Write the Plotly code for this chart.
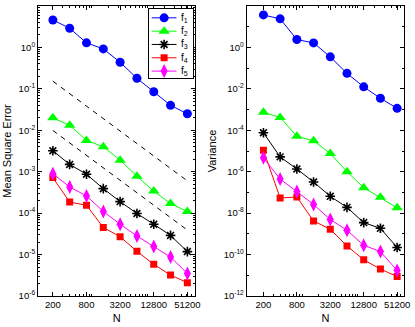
import plotly.graph_objects as go

# ---------------- data ----------------
N = [200, 400, 800, 1600, 3200, 6400, 12800, 25600, 51200]
series_names = ["f<sub>1</sub>", "f<sub>2</sub>", "f<sub>3</sub>", "f<sub>4</sub>", "f<sub>5</sub>"]

mse_f1 = [4.6, 2.9, 1.29, 0.92, 0.44, 0.18, 0.085, 0.040, 0.025]
mse_f2 = [0.020, 0.0132, 0.0057, 0.0040, 0.0019, 7.8e-4, 3.4e-4, 1.7e-4, 1.1e-4]
mse_f3 = [3.2e-3, 1.5e-3, 8.7e-4, 3.9e-4, 1.9e-4, 9.8e-5, 5.4e-5, 2.9e-5, 1.18e-5]
mse_f4 = [7.2e-4, 1.85e-4, 1.55e-4, 4.5e-5, 2.7e-5, 1.2e-5, 5.8e-6, 3.2e-6, 2.1e-6]
mse_f5 = [8.9e-4, 4.3e-4, 2.6e-4, 1.1e-4, 5.4e-5, 2.8e-5, 1.56e-5, 8.7e-6, 3.5e-6]

var_f1 = [37, 24, 2.4, 1.65, 0.35, 0.056, 0.0125, 0.0035, 0.00115]
var_f2 = [7.4e-4, 4.2e-4, 5.1e-5, 3.1e-5, 7.6e-6, 1.0e-6, 1.7e-7, 5.8e-8, 1.8e-8]
var_f3 = [7.6e-5, 5.2e-6, 1.35e-6, 3.2e-7, 6.5e-8, 1.9e-8, 3.5e-9, 1.85e-9, 2.2e-10]
var_f4 = [1.1e-5, 5.4e-8, 6.0e-8, 4.2e-9, 1.66e-9, 2.6e-10, 5.6e-11, 2.0e-11, 8.7e-12]
var_f5 = [4.7e-6, 4.4e-7, 1.1e-7, 2.6e-8, 4.9e-9, 1.5e-9, 2.8e-10, 1.4e-10, 1.7e-11]

# dashed reference lines (slope -1), endpoints
ref_N = [200, 51200]
ref_a = [0.153, 6.0e-4]
ref_b = [0.0099, 3.9e-5]

x_tick_vals = [200, 800, 3200, 12800, 51200]
x_tick_text = ["200", "800", "3200", "12800", "51200"]
mse_exponents = [1, 0, -1, -2, -3, -4, -5, -6]
var_exponents = [2, 0, -2, -4, -6, -8, -10, -12]

# ---------------- styles ----------------
FONT = "Liberation Sans, Arial, sans-serif"
colors = ["#0000ff", "#00ff00", "#000000", "#ff0000", "#ff00ff"]
markers = [
    dict(symbol="circle", size=9, color=colors[0]),
    dict(symbol="triangle-up", size=10, color=colors[1]),
    dict(symbol="asterisk-open", size=8, color=colors[2], line=dict(width=1.6, color=colors[2])),
    dict(symbol="square", size=7, color=colors[3]),
    dict(symbol="diamond-tall", size=10, color=colors[4]),
]

mse = [mse_f1, mse_f2, mse_f3, mse_f4, mse_f5]
var = [var_f1, var_f2, var_f3, var_f4, var_f5]

fig = go.Figure()

for ref in (ref_a, ref_b):
    fig.add_trace(go.Scatter(x=ref_N, y=ref, mode="lines", xaxis="x", yaxis="y",
                             line=dict(color="black", width=1, dash="5px,5px"),
                             showlegend=False, hoverinfo="skip"))

for i in range(5):
    fig.add_trace(go.Scatter(x=N, y=mse[i], mode="lines+markers", name=series_names[i],
                             xaxis="x", yaxis="y", line=dict(color=colors[i], width=1),
                             marker=markers[i], showlegend=False))
for i in range(5):
    fig.add_trace(go.Scatter(x=N, y=var[i], mode="lines+markers", name=series_names[i],
                             xaxis="x2", yaxis="y2", line=dict(color=colors[i], width=1),
                             marker=markers[i], showlegend=False))

# ---------------- manual key (gnuplot style) ----------------
row_h = 13.5
for i in range(5):
    yy = 9 + row_h * i
    fig.add_trace(go.Scatter(x=[3, 28], y=[yy, yy], mode="lines", xaxis="x3", yaxis="y3",
                             line=dict(color=colors[i], width=1), showlegend=False, hoverinfo="skip"))
    fig.add_trace(go.Scatter(x=[15.5], y=[yy], mode="markers", xaxis="x3", yaxis="y3",
                             marker=markers[i], showlegend=False, hoverinfo="skip"))
    fig.add_annotation(x=31, y=yy, xref="x3", yref="y3", text=series_names[i], showarrow=False,
                       xanchor="left", yanchor="middle", font=dict(family=FONT, size=10, color="black"))

# ---------------- axes ----------------
L, R, T, B = 38, 7, 5, 28
W, H = 415, 327
pw = W - L - R
ph = H - T - B


def px_x(p):
    return (p - L) / pw


def px_y(p):
    return (H - B - p) / ph


def minor_vals(lo, hi):
    vals = []
    for k in range(1, 6):
        for m in range(1, 10):
            v = m * 10 ** k
            if lo < v < hi and v not in x_tick_vals:
                vals.append(v)
    return vals


def minor_y(lo, hi):
    vals = []
    for k in range(lo, hi):
        for m in range(2, 10):
            vals.append(m * 10.0 ** k)
    return vals


tickfont = dict(family=FONT, size=9.5, color="black")
titlefont = dict(family=FONT, size=11, color="black")

common_x = dict(type="log", tickmode="array", tickvals=x_tick_vals, ticktext=x_tick_text,
                ticks="inside", ticklen=4, tickwidth=1, tickcolor="black",
                showline=True, linecolor="black", linewidth=1, mirror="ticks",
                showgrid=False, zeroline=False, tickfont=tickfont,
                title=dict(text="N", font=titlefont, standoff=4))

common_y = dict(type="log", tickmode="array",
                ticks="inside", ticklen=4, tickwidth=1, tickcolor="black",
                showline=True, linecolor="black", linewidth=1, mirror="ticks",
                showgrid=False, zeroline=False, tickfont=tickfont)

fig.update_layout(
    width=W, height=H,
    margin=dict(l=L, r=R, t=T, b=B, pad=0),
    paper_bgcolor="white", plot_bgcolor="white",
    font=dict(family=FONT, size=10, color="black"),
    showlegend=False,
    xaxis=dict(common_x, domain=[0, px_x(197)], range=[2.035, 4.851], anchor="y",
               minor=dict(tickvals=minor_vals(100, 71000), ticks="inside", ticklen=2,
                          tickcolor="black", tickwidth=1)),
    yaxis=dict(common_y, domain=[0, 1], range=[-6, 1], anchor="x",
               tickvals=[10.0 ** e for e in mse_exponents],
               ticktext=["10<sup>%d</sup>" % e for e in mse_exponents],
               minor=dict(tickvals=minor_y(-6, 1), ticks="inside", ticklen=2,
                          tickcolor="black", tickwidth=1),
               title=dict(text="Mean Square Error", font=titlefont, standoff=4)),
    xaxis2=dict(common_x, domain=[px_x(249), 1], range=[2.0, 4.833], anchor="y2",
                minor=dict(tickvals=minor_vals(100, 69000), ticks="inside", ticklen=2,
                           tickcolor="black", tickwidth=1)),
    yaxis2=dict(common_y, domain=[0, 1], range=[-12, 2], anchor="x2",
                tickvals=[10.0 ** e for e in var_exponents],
                ticktext=["10<sup>%d</sup>" % e for e in var_exponents],
                minor=dict(tickvals=[10.0 ** e for e in range(-11, 2, 2)], ticks="inside",
                           ticklen=2, tickcolor="black", tickwidth=1),
                title=dict(text="Variance", font=titlefont, standoff=4)),
    xaxis3=dict(domain=[px_x(150), px_x(195)], range=[0, 45], anchor="y3",
                showline=True, linecolor="black", linewidth=1, mirror=True,
                showticklabels=False, ticks="", showgrid=False, zeroline=False, fixedrange=True),
    yaxis3=dict(domain=[px_y(78), px_y(8)], range=[70, 0], anchor="x3",
                showline=True, linecolor="black", linewidth=1, mirror=True,
                showticklabels=False, ticks="", showgrid=False, zeroline=False, fixedrange=True),
)

fig.write_html(
    "out.html",
    config={"displayModeBar": False},
    post_script="document.body.style.margin='0';document.body.style.overflow='hidden';",
)
